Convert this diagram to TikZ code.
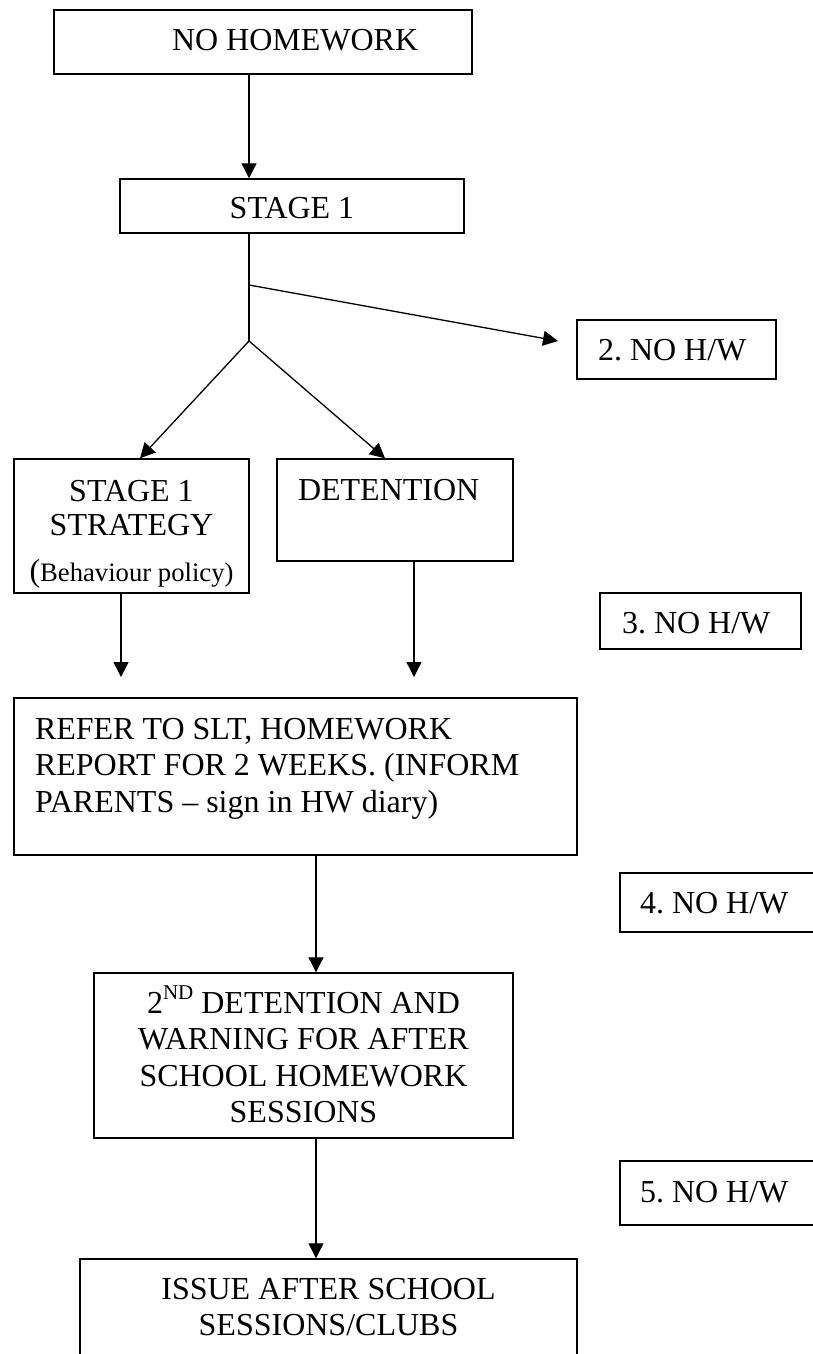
\documentclass[tikz,border=0pt]{standalone}
\usepackage{fontspec}
\setmainfont{Liberation Serif}
\usetikzlibrary{arrows.meta}
\frenchspacing
\newcommand\bxtxt[4]{\makebox[0pt][#1]{\hspace*{#2}\raisebox{#3}[0pt][0pt]{\begin{tabular}[t]{@{}#1@{}}#4\end{tabular}}}}
\tikzset{
  bx/.style={draw, line width=1.5pt, inner sep=0pt, font=\fontsize{32}{36.5}\selectfont\frenchspacing},
  arr/.style={line width=1.3pt, -{Triangle[width=15pt,length=15pt]}},
  ln/.style={line width=1.3pt},
}
\begin{document}
\begin{tikzpicture}[x=1pt,y=-1pt]
\useasboundingbox (0,0) rectangle (813,1354);
\clip (0,0) rectangle (813,1354);
\fill[white] (0,0) rectangle (813,1354);
% boxes
\node[bx, minimum width=418pt, minimum height=64pt] (nohw) at (263,42) {\bxtxt{l}{-91pt}{-9pt}{NO HOMEWORK}};
\node[bx, minimum width=344pt, minimum height=54pt] (stage1) at (292,206) {\bxtxt{c}{0pt}{-12pt}{STAGE 1}};
\node[bx, minimum width=199pt, minimum height=59pt] (hw2) at (676.5,349.5) {\bxtxt{l}{-78.5pt}{-10.5pt}{2. NO H/W}};
\node[bx, font=\fontsize{32}{34.5}\selectfont, minimum width=235pt, minimum height=134pt] (strat) at (131.5,526) {\bxtxt{c}{0pt}{25pt}{STAGE 1\\STRATEGY\\[11pt]({\fontsize{26.67}{30}\selectfont Behaviour policy)}}};
\node[bx, minimum width=236pt, minimum height=102pt] (det) at (395,510) {\bxtxt{l}{-97pt}{10pt}{DETENTION}};
\node[bx, minimum width=201pt, minimum height=56pt] (hw3) at (700.5,621) {\bxtxt{l}{-78.5pt}{-12pt}{3. NO H/W}};
\node[bx, minimum width=563pt, minimum height=157pt] (refer) at (295.5,776.5) {\bxtxt{l}{-260.5pt}{37.5pt}{REFER TO SLT, HOMEWORK\\REPORT FOR 2 WEEKS. (INFORM\\PARENTS \textendash\ sign in HW diary)}};
\node[bx, minimum width=220pt, minimum height=59pt] (hw4) at (730,902.5) {\bxtxt{l}{-90pt}{-10.5pt}{4. NO H/W}};
\node[bx, minimum width=419pt, minimum height=165pt] (det2) at (303.5,1055.5) {\bxtxt{c}{0pt}{42.5pt}{2\raisebox{14pt}{\fontsize{21}{21}\selectfont ND} DETENTION AND\\WARNING FOR AFTER\\SCHOOL HOMEWORK\\SESSIONS}};
\node[bx, minimum width=220pt, minimum height=64pt] (hw5) at (730,1193) {\bxtxt{l}{-90pt}{-9pt}{5. NO H/W}};
\node[bx, minimum width=497pt, minimum height=150pt] (issue) at (328.5,1334) {\bxtxt{c}{0pt}{35pt}{ISSUE AFTER SCHOOL\\SESSIONS/CLUBS}};
% connector points
\coordinate (split) at (249,341);
\coordinate (side) at (249,285);
\coordinate (sidetip) at (558,341);
\coordinate (tl) at (140,459);
\coordinate (tr) at (385,459);
\coordinate (e1) at (121,677);
\coordinate (e2) at (414,677);
\coordinate (mid) at (316,900);
% connectors
\draw[arr] (nohw.south -| split) -- (stage1.north -| split);
\draw[ln] (stage1.south -| split) -- (split);
\draw[arr] (side) -- (sidetip);
\draw[arr] (split) -- (strat.north -| tl);
\draw[arr] (split) -- (det.north -| tr);
\draw[arr] (strat.south -| e1) -- (e1);
\draw[arr] (det.south -| e2) -- (e2);
\draw[arr] (refer.south -| mid) -- (det2.north -| mid);
\draw[arr] (det2.south -| mid) -- (issue.north -| mid);
\end{tikzpicture}
\end{document}
